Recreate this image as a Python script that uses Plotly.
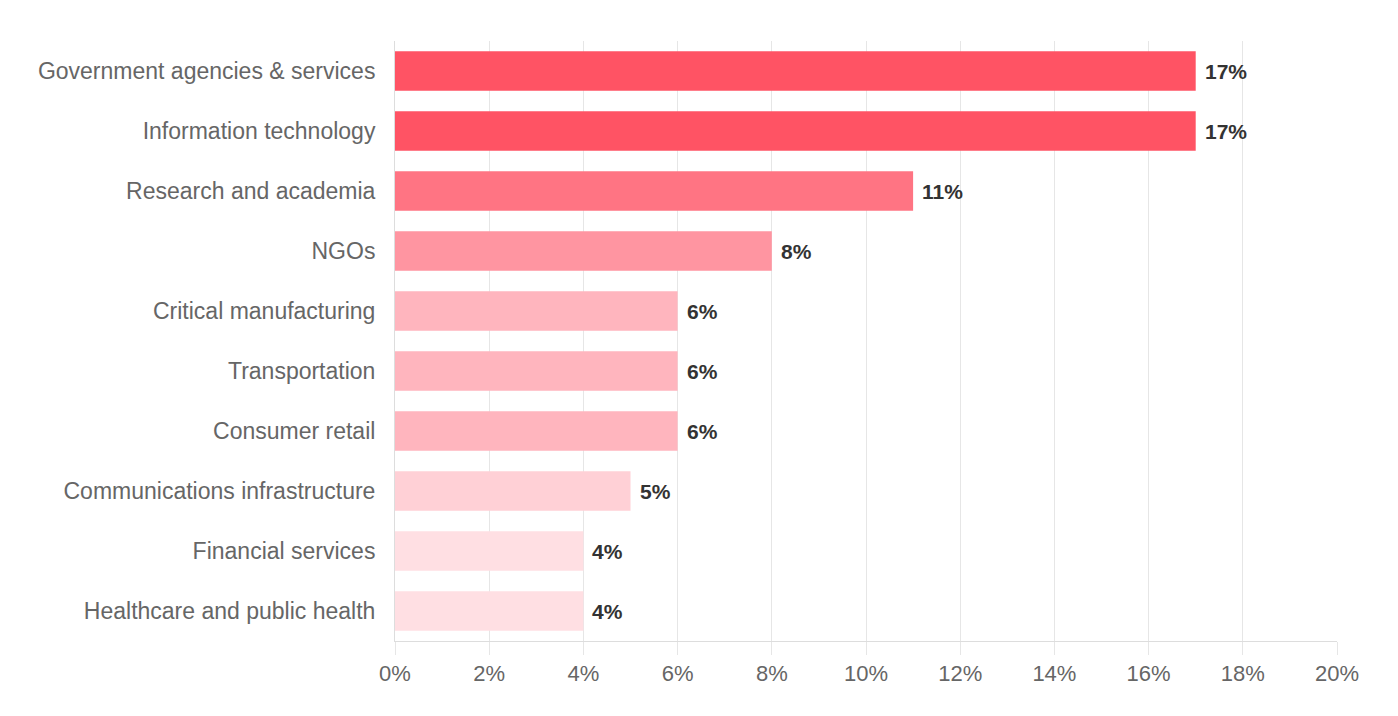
import plotly.graph_objects as go

categories = [
    "Government agencies & services",
    "Information technology",
    "Research and academia",
    "NGOs",
    "Critical manufacturing",
    "Transportation",
    "Consumer retail",
    "Communications infrastructure",
    "Financial services",
    "Healthcare and public health",
]
values = [17, 17, 11, 8, 6, 6, 6, 5, 4, 4]
colors = ["#ff5364", "#ff5364", "#ff7483", "#ff95a1", "#ffb5be", "#ffb5be",
          "#ffb5be", "#ffd0d6", "#ffdfe3", "#ffdfe3"]
tick_vals = [0, 2, 4, 6, 8, 10, 12, 14, 16, 18, 20]
tick_text = [f"{v}%" for v in tick_vals]

fig = go.Figure(go.Bar(
    x=values, y=categories, orientation="h",
    marker=dict(color=colors, line=dict(width=0)),
    width=0.66, hoverinfo="skip",
))

for c, v in zip(categories, values):
    fig.add_annotation(x=v, y=c, text=f"<b>{v}%</b>", showarrow=False,
                       xanchor="left", xshift=7,
                       font=dict(family="Liberation Sans, Arial", size=21, color="#333333"))

fig.update_layout(
    width=1398, height=716,
    margin=dict(l=395, r=61, t=41, b=75),
    paper_bgcolor="white", plot_bgcolor="white",
    showlegend=False,
    font=dict(family="Liberation Sans, Arial", color="#666666"),
    bargap=0.34,
)
fig.update_xaxes(
    range=[0, 20], tickvals=tick_vals, ticktext=tick_text,
    showgrid=True, gridcolor="#e6e6e6", gridwidth=1,
    zeroline=False, showline=True, linecolor="#dddddd", linewidth=1,
    ticks="outside", ticklen=13, tickcolor="#e6e6e6",
    tickfont=dict(size=22, color="#666666"),
    fixedrange=True,
)
fig.update_yaxes(
    categoryorder="array", categoryarray=categories[::-1],
    showgrid=False, showline=True, linecolor="#dddddd", linewidth=1,
    ticks="", ticklabelstandoff=14,
    tickfont=dict(size=23, color="#666666"),
    fixedrange=True,
)

fig.write_html("out.html")
